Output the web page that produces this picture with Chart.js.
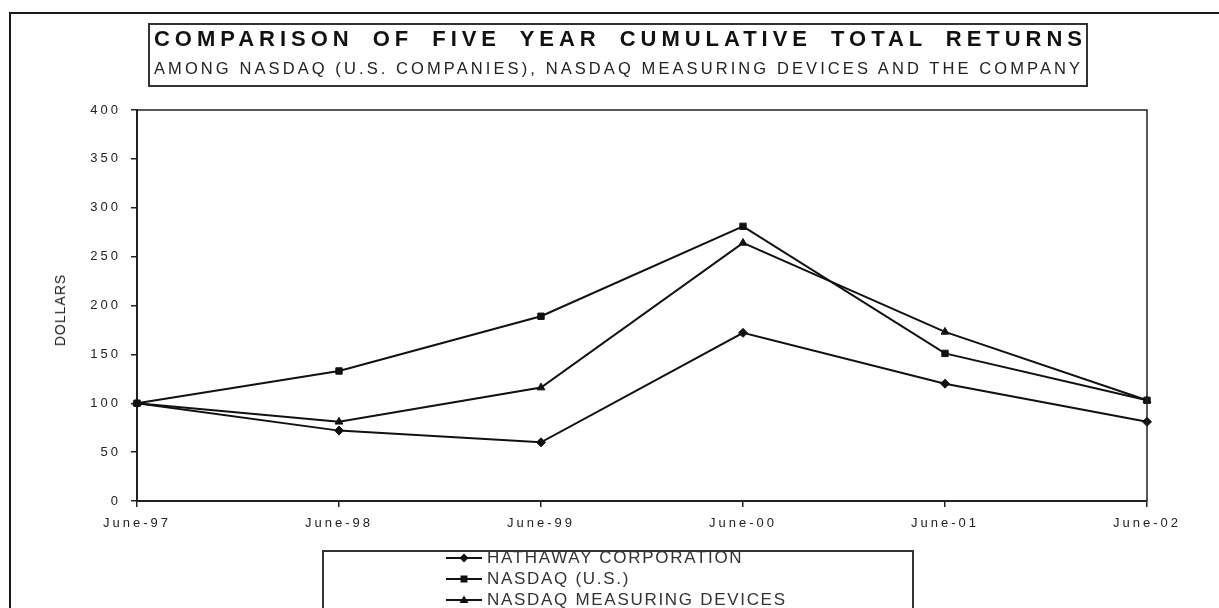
<!DOCTYPE html>
<html>
<head>
<meta charset="utf-8">
<script src="https://cdn.jsdelivr.net/npm/chart.js@4.4.0/dist/chart.umd.min.js"></script>
<style>
    html, body { margin: 0; padding: 0; background: #fff; }
    #page { position: relative; width: 1219px; height: 608px; overflow: hidden; font-family: "Liberation Sans", Arial, sans-serif; color: #222; }
    #frame { position: absolute; left: 9px; top: 12px; width: 1300px; height: 700px; border-top: 2px solid #1a1a1a; border-left: 2px solid #1a1a1a; }
    #chart { position: absolute; left: 0; top: 0; }
    #title-box { position: absolute; left: 148px; top: 23px; width: 936px; height: 60px; border: 2px solid #333; }
    .tline { position: absolute; left: 154px; white-space: nowrap; color: #111; }
    #t1 { top: 28px; font-size: 22px; line-height: 22px; font-weight: bold; word-spacing: 8px; }
    #t2 { top: 60px; font-size: 16.5px; line-height: 17px; color: #222; }
    #ylabel { position: absolute; left: 60px; top: 310px; transform: translate(-50%, -50%) rotate(-90deg); font-size: 14px; letter-spacing: 1px; white-space: nowrap; color: #222; }
    #legend-box { position: absolute; left: 322px; top: 550px; width: 588px; height: 100px; border: 2px solid #333; border-bottom: none; }
    .lrow { position: absolute; left: 446px; height: 20px; white-space: nowrap; font-size: 17px; line-height: 20px; color: #333; }
    .lrow svg { position: absolute; left: 0; top: 0; }
    .lrow span { position: absolute; left: 41px; top: 0; }
</style>
</head>
<body>
<div id="page">
    <div id="frame"></div>
    <canvas id="chart" width="1219" height="608"></canvas>
    <div id="title-box"></div>
    <div class="tline" id="t1">COMPARISON OF FIVE YEAR CUMULATIVE TOTAL RETURNS</div>
    <div class="tline" id="t2">AMONG NASDAQ (U.S. COMPANIES), NASDAQ MEASURING DEVICES AND THE COMPANY</div>
    <div id="ylabel">DOLLARS</div>
    <div id="legend-box"></div>
    <div id="legend"></div>
</div>
<script>
// chart data
const labels = ['June-97', 'June-98', 'June-99', 'June-00', 'June-01', 'June-02'];
const hathaway = [100, 72, 60, 172, 120, 81];
const nasdaqUS = [100, 133, 189, 281, 151, 103];
const measuring = [100, 81, 116, 264, 173, 103];
const seriesNames = ['HATHAWAY CORPORATION', 'NASDAQ (U.S.)', 'NASDAQ MEASURING DEVICES'];
const yTicks = [0, 50, 100, 150, 200, 250, 300, 350, 400];

const lineColor = '#111';

// Stretch a line of text to a target width with letter spacing
function fitLine(el, target) {
    el.style.letterSpacing = '0px';
    const w = el.getBoundingClientRect().width;
    const n = el.textContent.length;
    el.style.letterSpacing = ((target - w) / (n - 1)) + 'px';
}

fitLine(document.getElementById('t1'), 928);
fitLine(document.getElementById('t2'), 926);

// Wide letter spacing for axis labels, as in the original
const spacingPlugin = {
    id: 'spacing',
    beforeDraw: function(chart) {
        chart.ctx.letterSpacing = '3px';
    }
};

// Top and right edges of the plot box
const plotFrame = {
    id: 'plotFrame',
    afterDraw: function(chart) {
        const a = chart.chartArea;
        const ctx = chart.ctx;
        ctx.save();
        ctx.strokeStyle = '#222';
        ctx.lineWidth = 1.5;
        ctx.beginPath();
        ctx.moveTo(a.left, a.top);
        ctx.lineTo(a.right, a.top);
        ctx.lineTo(a.right, a.bottom);
        ctx.stroke();
        ctx.restore();
    }
};

function makeSet(name, values, style) {
    return {
        label: name,
        data: values,
        borderColor: lineColor,
        backgroundColor: lineColor,
        borderWidth: 2,
        pointStyle: style,
        pointRadius: 4.5,
        pointBorderWidth: 1,
        tension: 0,
        fill: false
    };
}

const tickFont = { family: '"Liberation Sans", Arial, sans-serif', size: 13 };

const chart = new Chart(document.getElementById('chart'), {
    type: 'line',
    data: {
        labels: labels,
        datasets: [
            makeSet(seriesNames[0], hathaway, 'rectRot'),
            makeSet(seriesNames[1], nasdaqUS, 'rect'),
            makeSet(seriesNames[2], measuring, 'triangle')
        ]
    },
    options: {
        responsive: false,
        animation: false,
        layout: { padding: { top: 110, right: 72, left: 0, bottom: 0 } },
        plugins: {
            legend: { display: false },
            tooltip: { enabled: false }
        },
        scales: {
            x: {
                offset: false,
                grid: { drawOnChartArea: false, drawTicks: true, tickLength: 6, color: '#222', lineWidth: 1.5 },
                border: { display: true, color: '#222', width: 2 },
                ticks: {
                    color: '#222',
                    padding: 9,
                    maxRotation: 0,
                    font: tickFont
                },
                afterFit: function(scale) { scale.height = 107; }
            },
            y: {
                min: 0,
                max: 400,
                afterBuildTicks: function(scale) {
                    scale.ticks = yTicks.map(function(v) { return { value: v }; });
                },
                grid: { drawOnChartArea: false, drawTicks: true, tickLength: 6, color: '#222', lineWidth: 1.5 },
                border: { display: true, color: '#222', width: 2 },
                ticks: {
                    color: '#222',
                    padding: 10,
                    font: tickFont
                },
                afterFit: function(scale) { scale.width = 137; }
            }
        }
    },
    plugins: [spacingPlugin, plotFrame]
});

// Legend built from the datasets
const legendEl = document.getElementById('legend');
const rowTops = [548, 569, 590];
chart.data.datasets.forEach(function(ds, i) {
    const row = document.createElement('div');
    row.className = 'lrow';
    row.style.top = rowTops[i] + 'px';
    let marker = '';
    if (ds.pointStyle === 'rectRot') {
        marker = '<polygon points="18,5.5 22.5,10 18,14.5 13.5,10" fill="#111"/>';
    } else if (ds.pointStyle === 'rect') {
        marker = '<rect x="14.5" y="6.5" width="7" height="7" fill="#111"/>';
    } else {
        marker = '<polygon points="18,5.5 22.5,13 13.5,13" fill="#111"/>';
    }
    row.innerHTML = '<svg width="38" height="20"><line x1="0" y1="10" x2="36" y2="10" stroke="#111" stroke-width="2"/>' +
        marker + '</svg><span>' + ds.label + '</span>';
    legendEl.appendChild(row);
});
const spans = legendEl.querySelectorAll('span');
fitLine(spans[2], 298);
spans[0].style.letterSpacing = spans[2].style.letterSpacing;
spans[1].style.letterSpacing = spans[2].style.letterSpacing;
</script>
</body>
</html>
